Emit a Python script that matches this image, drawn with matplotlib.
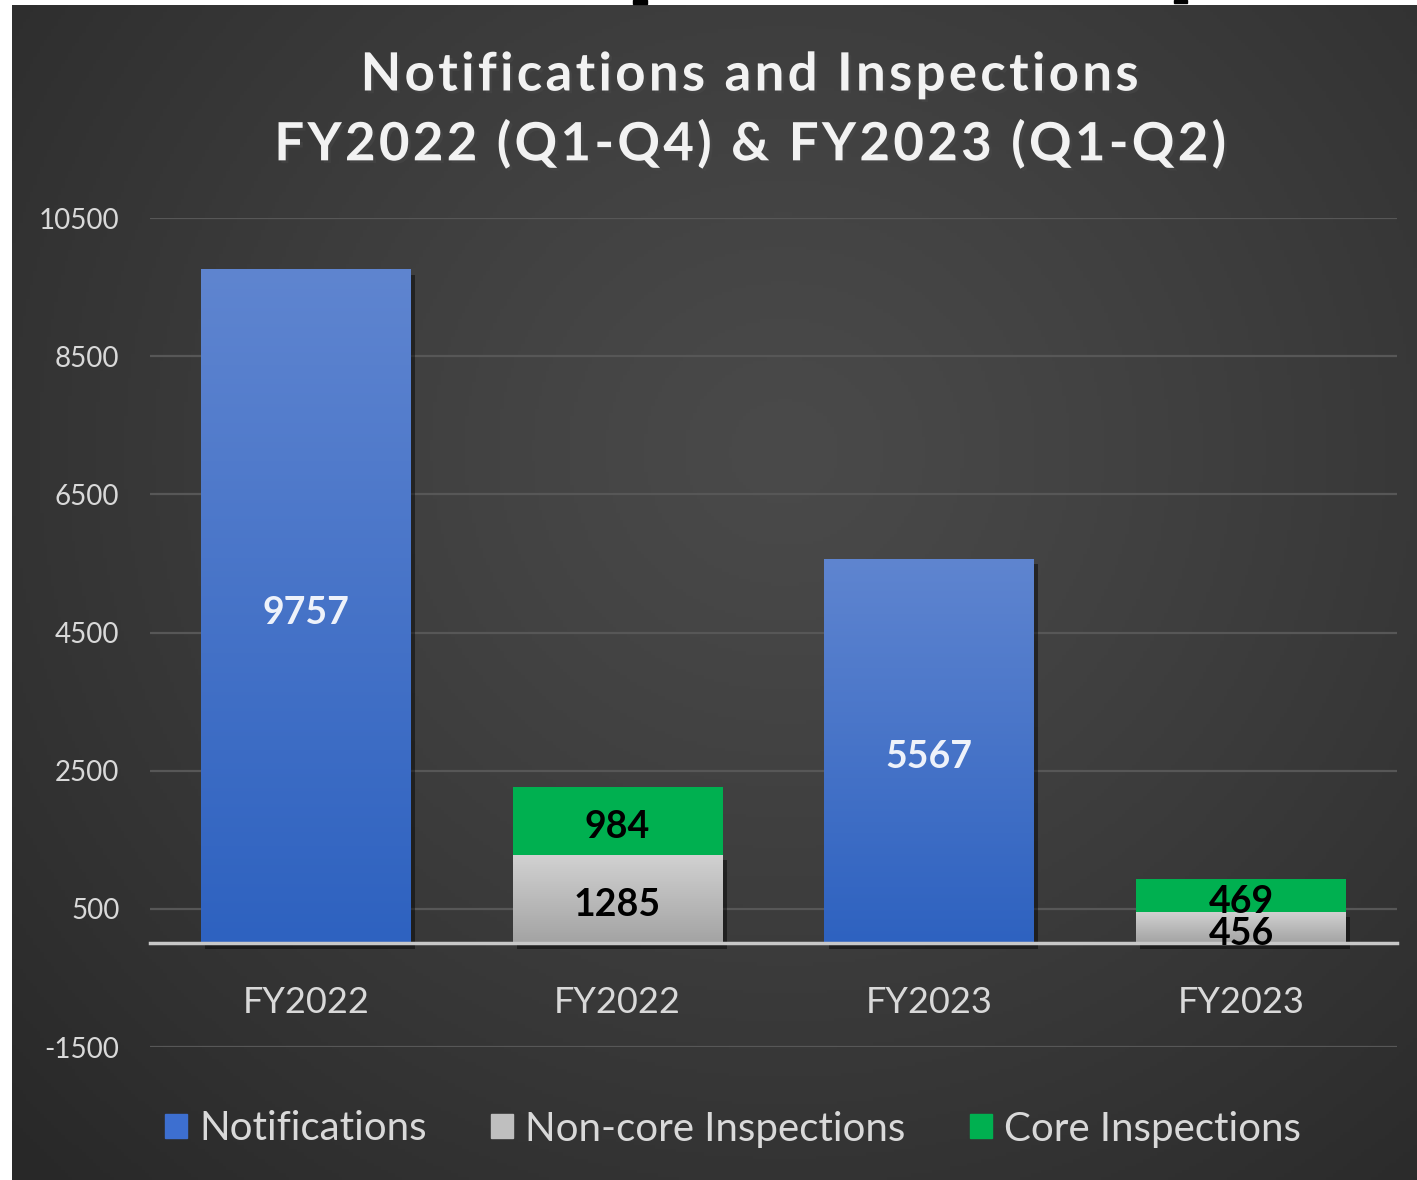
import numpy as np
import matplotlib
matplotlib.use("Agg")
from matplotlib import pyplot as plt
from matplotlib.patches import Patch, Rectangle
import matplotlib.patheffects as pe

plt.rcParams['font.family'] = ['Lato', 'DejaVu Sans']

# data
categories = ["FY2022", "FY2022", "FY2023", "FY2023"]
notifications = [9757, 0, 5567, 0]
noncore = [0, 1285, 0, 456]
core = [0, 984, 0, 469]
series_names = ["Notifications", "Non-core Inspections", "Core Inspections"]
yticks = [-1500, 500, 2500, 4500, 6500, 8500, 10500]
title_lines = ["Notifications and Inspections", "FY2022 (Q1-Q4) & FY2023 (Q1-Q2)"]

W, H = 1417, 1180
fig = plt.figure(figsize=(W / 100, H / 100), dpi=100)
fig.patch.set_facecolor("white")

# dark background panel with a soft radial glow
bg = fig.add_axes([12 / W, 0, 1 - 12 / W, 1175 / H])
gx, gy = np.meshgrid(np.linspace(0, 1, 400), np.linspace(0, 1, 340))
r = np.sqrt(((gx - 0.55) / 0.75) ** 2 + ((gy - 0.38) / 0.85) ** 2)
shade = 0.29 - 0.13 * np.clip(r, 0, 1) ** 1.2
bg.imshow(np.dstack([shade] * 3), aspect="auto", extent=[0, 1, 0, 1], origin="upper")
bg.axis("off")

# small black marks in the white strip at the top
for mx, mw, mh in [(633, 14, 4), (1174, 13, 3)]:
    fig.patches.append(Rectangle((mx / W, 1 - mh / H), mw / W, mh / H,
                                 transform=fig.transFigure, color="black", zorder=5))

ax = fig.add_axes([150 / W, 133 / H, 1247 / W, 829 / H])
ax.patch.set_alpha(0)

x = np.arange(len(categories))
w = 0.673
shadow = [pe.SimplePatchShadow(offset=(3, -4), alpha=0.45, shadow_rgbFace="black"), pe.Normal()]

b1 = ax.bar(x, notifications, w, color="#4472c4", zorder=3)
b2 = ax.bar(x, noncore, w, bottom=notifications, color="#bfbfbf", zorder=3)
bottom3 = np.array(notifications) + np.array(noncore)
b3 = ax.bar(x, core, w, bottom=bottom3, color="#00b050", zorder=3)


def grad_fill(bars, top, bot):
    top = np.array(matplotlib.colors.to_rgb(top))
    bot = np.array(matplotlib.colors.to_rgb(bot))
    t = np.linspace(0, 1, 256)[:, None]
    img = (top * (1 - t) + bot * t)[:, None, :]
    for p in bars:
        if p.get_height() <= 0:
            continue
        p.set_path_effects(shadow)
        x0, y0 = p.get_x(), p.get_y()
        im = ax.imshow(img, aspect="auto", origin="upper", zorder=3.5,
                       extent=[x0, x0 + p.get_width(), y0, y0 + p.get_height()])
        im.set_clip_path(p)


grad_fill(b1, "#5f85d0", "#2e62c0")
grad_fill(b2, "#d2d2d2", "#a3a3a3")

# value labels in the middle of each segment
for bars, vals, col in [(b1, notifications, "#eef2fa"), (b2, noncore, "black"), (b3, core, "black")]:
    for p, v in zip(bars, vals):
        if v <= 0:
            continue
        ax.text(p.get_x() + p.get_width() / 2, p.get_y() + v / 2 - 90, str(v),
                ha="center", va="center", fontsize=27, fontweight="bold", color=col, zorder=5)

ax.set_xlim(-0.5, 3.5)
ax.set_ylim(-1500, 10500)
ax.set_yticks(yticks)
ax.set_yticklabels([str(t) for t in yticks])
ax.set_xticks(x)
ax.set_xticklabels(categories)
ax.grid(axis="y", color="#575757", lw=1.6)
ax.set_axisbelow(True)
for s in ("top", "right", "left"):
    ax.spines[s].set_visible(False)
ax.spines["bottom"].set_position(("data", 0))
ax.spines["bottom"].set_color("#c8c8c8")
ax.spines["bottom"].set_linewidth(2.5)
ax.spines["bottom"].set_zorder(4)
ax.tick_params(axis="y", length=0, pad=22, labelsize=20, labelcolor="#d9d9d9")
ax.tick_params(axis="x", length=0, pad=31, labelsize=26, labelcolor="#d9d9d9")

# title, spread out a little like the original
for txt, ypx in zip(title_lines, [75, 144]):
    spaced = "\u200a".join(txt)
    fig.text(749 / W, 1 - ypx / H, spaced, ha="center", va="center", fontsize=38,
             fontweight="bold", color="#f2f2f2",
             path_effects=[pe.SimplePatchShadow(offset=(2, -2), alpha=0.5), pe.Normal()])

handles = [Patch(color="#3d6fd0"), Patch(color="#bfbfbf"), Patch(color="#00b050")]
fig.legend(handles, series_names, loc="center", bbox_to_anchor=(733 / W, 51 / H), ncol=3,
           frameon=False, fontsize=29, labelcolor="#d9d9d9", handlelength=0.55,
           handleheight=0.55, handletextpad=0.3, columnspacing=1.6)

fig.savefig("out.png", dpi=100, facecolor=fig.get_facecolor())
